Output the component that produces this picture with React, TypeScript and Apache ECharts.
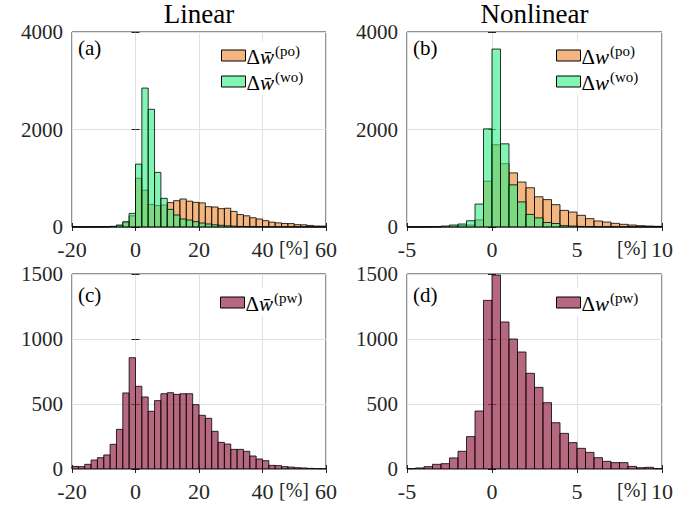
import React, { useEffect, useRef } from "react";
import * as echarts from "echarts";

// ---- data ----
const linStart = -20;
const linWidth = 2;
const nonStart = -5;
const nonWidth = 0.5;

const linPo = [0, 0, 1, 2, 3, 5, 10, 30, 90, 230, 1000, 755, 463, 440, 450, 500, 540, 575, 530, 506, 495, 417, 410, 376, 385, 320, 255, 230, 190, 165, 130, 100, 85, 72, 70, 48, 45, 32, 20, 18];
const linWo = [0, 0, 0, 0, 1, 4, 14, 41, 109, 280, 1290, 2850, 2415, 1120, 588, 362, 246, 164, 144, 109, 82, 62, 45, 35, 25, 18, 12, 8, 6, 4, 3, 2, 2, 1, 1, 1, 0, 0, 0, 0];
const nonPo = [0, 1, 2, 5, 10, 15, 27, 40, 145, 940, 1687, 1298, 1110, 922, 805, 620, 562, 458, 341, 307, 239, 171, 123, 102, 75, 55, 41, 27, 20, 14];
const nonWo = [0, 0, 2, 5, 20, 41, 61, 128, 470, 2013, 3650, 1706, 865, 515, 258, 187, 92, 72, 27, 20, 12, 8, 5, 4, 3, 2, 1, 1, 0, 0];
const linPw = [20, 18, 36, 69, 87, 108, 190, 305, 585, 856, 636, 554, 444, 526, 579, 587, 574, 579, 579, 495, 413, 390, 290, 205, 192, 151, 151, 136, 100, 77, 64, 28, 26, 18, 15, 10, 8, 5, 3, 2];
const nonPw = [3, 8, 18, 36, 41, 85, 136, 249, 446, 1297, 1492, 1131, 1000, 900, 736, 628, 510, 356, 274, 203, 159, 128, 87, 59, 49, 49, 20, 10, 13, 3];

const colTitles = ["Linear", "Nonlinear"];
const panelLabels = ["(a)", "(b)", "(c)", "(d)"];
const unitLabel = "[%]";

const FONT = "'Liberation Serif', 'Times New Roman', serif";
const AXIS_COLOR = "#262626";
const ORANGE = "rgba(237,133,43,0.6)";
const GREEN = "rgba(43,238,130,0.6)";
const MAROON = "rgba(150,40,72,0.7)";

function bins(counts: number[], start: number, width: number) {
  return counts.map((c, i) => [start + i * width, start + (i + 1) * width, c]);
}

export default function App() {
  const ref = useRef<HTMLDivElement>(null);
  useEffect(() => {
    document.body.style.margin = "0";
    if (!ref.current) return;
    const chart = echarts.init(ref.current, undefined, { renderer: "svg" });

    const panels = [
      { grid: { left: 72, top: 32, width: 254, height: 195 }, xmin: -20, xmax: 60, xint: 20, ymax: 4000, yint: 2000 },
      { grid: { left: 407, top: 32, width: 255, height: 195 }, xmin: -5, xmax: 10, xint: 5, ymax: 4000, yint: 2000 },
      { grid: { left: 72, top: 274, width: 254, height: 195 }, xmin: -20, xmax: 60, xint: 20, ymax: 1500, yint: 500 },
      { grid: { left: 407, top: 274, width: 255, height: 195 }, xmin: -5, xmax: 10, xint: 5, ymax: 1500, yint: 500 },
    ];

    const grids: any[] = [];
    const xAxes: any[] = [];
    const yAxes: any[] = [];
    const plain = (v: number) => String(v);
    panels.forEach((p, i) => {
      grids.push({ ...p.grid, show: true, borderColor: AXIS_COLOR, borderWidth: 1, backgroundColor: "#fff", containLabel: false });
      const common = { type: "value", gridIndex: i, min: p.xmin, max: p.xmax, interval: p.xint };
      xAxes.push({
        ...common,
        position: "bottom",
        axisLine: { show: false },
        axisTick: { show: true, inside: true, length: 4, lineStyle: { color: AXIS_COLOR } },
        axisLabel: { fontFamily: FONT, fontSize: 22, lineHeight: 20, color: AXIS_COLOR, margin: 12, formatter: plain },
        splitLine: { show: true, lineStyle: { color: "#e0e0e0", width: 1 } },
      });
      xAxes.push({
        ...common,
        position: "top",
        axisLine: { show: false },
        axisTick: { show: true, inside: true, length: 4, lineStyle: { color: AXIS_COLOR } },
        axisLabel: { show: false },
        splitLine: { show: false },
      });
      const ycommon = { type: "value", gridIndex: i, min: 0, max: p.ymax, interval: p.yint };
      yAxes.push({
        ...ycommon,
        position: "left",
        axisLine: { show: false },
        axisTick: { show: true, inside: true, length: 4, lineStyle: { color: AXIS_COLOR } },
        axisLabel: { fontFamily: FONT, fontSize: 21, lineHeight: 16, color: AXIS_COLOR, margin: 9, formatter: plain },
        splitLine: { show: true, lineStyle: { color: "#e0e0e0", width: 1 } },
      });
      yAxes.push({
        ...ycommon,
        position: "right",
        axisLine: { show: false },
        axisTick: { show: true, inside: true, length: 4, lineStyle: { color: AXIS_COLOR } },
        axisLabel: { show: false },
        splitLine: { show: false },
      });
    });

    const mkSeries = (name: string, panel: number, data: number[][], fill: string) => ({
      type: "custom",
      name,
      xAxisIndex: panel * 2,
      yAxisIndex: panel * 2,
      itemStyle: { color: fill, borderColor: "#000", borderWidth: 1 },
      encode: { x: [0, 1], y: 2 },
      data,
      renderItem: (params: any, api: any) => {
        const x0 = api.value(0);
        const x1 = api.value(1);
        const y = api.value(2);
        const p0 = api.coord([x0, y]);
        const p1 = api.coord([x1, 0]);
        return {
          type: "rect",
          shape: { x: p0[0], y: p0[1], width: p1[0] - p0[0], height: p1[1] - p0[1] },
          style: { fill, stroke: "rgba(0,0,0,0.8)", lineWidth: 1 },
        };
      },
    });

    const series = [
      mkSeries("a_po", 0, bins(linPo, linStart, linWidth), ORANGE),
      mkSeries("a_wo", 0, bins(linWo, linStart, linWidth), GREEN),
      mkSeries("b_po", 1, bins(nonPo, nonStart, nonWidth), ORANGE),
      mkSeries("b_wo", 1, bins(nonWo, nonStart, nonWidth), GREEN),
      mkSeries("c_pw", 2, bins(linPw, linStart, linWidth), MAROON),
      mkSeries("d_pw", 3, bins(nonPw, nonStart, nonWidth), MAROON),
    ];

    const colorOf: Record<string, string> = {
      a_po: ORANGE, a_wo: GREEN, b_po: ORANGE, b_wo: GREEN, c_pw: MAROON, d_pw: MAROON,
    };
    const fmt = (name: string) => {
      const [p, s] = name.split("_");
      const bar = p === "a" || p === "c";
      return `{d|Δ}{w|${bar ? "w\u0304" : "w"}}{s|(${s})}`;
    };
    const rich = {
      d: { fontFamily: FONT, fontSize: 21, color: "#000", verticalAlign: "bottom", lineHeight: 23 },
      w: { fontFamily: FONT, fontSize: 21, fontStyle: "italic", color: "#000", verticalAlign: "bottom", lineHeight: 23 },
      s: { fontFamily: FONT, fontSize: 15, color: "#000", verticalAlign: "bottom", lineHeight: 23, padding: [0, 0, 9, 1] },
    };
    const mkLegend = (names: string[], left: number, top: number) => ({
      data: names.map((n) => ({ name: n, icon: "rect", itemStyle: { color: colorOf[n], borderColor: "#000", borderWidth: 1 } })),
      orient: "vertical",
      left,
      top,
      itemWidth: 24,
      itemHeight: 11,
      itemGap: 2,
      padding: [2, 4, 2, 3],
      backgroundColor: "#fff",
      selectedMode: false,
      formatter: fmt,
      textStyle: { rich, padding: [0, 0, 0, -4] },
    });

    const legends = [
      mkLegend(["a_po", "a_wo"], 218, 41),
      mkLegend(["b_po", "b_wo"], 553, 41),
      mkLegend(["c_pw"], 217, 288),
      mkLegend(["d_pw"], 553, 288),
    ];

    const graphic: any[] = [];
    const titleX = [199, 534.5];
    colTitles.forEach((t, i) => {
      graphic.push({
        type: "text", x: titleX[i], y: 14,
        style: { text: t, fontFamily: FONT, fontSize: 27, fill: "#000", textAlign: "center", textVerticalAlign: "middle" },
      });
    });
    const labelPos = [[78, 48], [413, 48], [78, 295], [413, 295]];
    panelLabels.forEach((t, i) => {
      graphic.push({
        type: "text", x: labelPos[i][0], y: labelPos[i][1],
        style: { text: t, fontFamily: FONT, fontSize: 21, fill: "#000", textAlign: "left", textVerticalAlign: "middle" },
      });
    });
    const unitPos = [[294, 248], [632, 248], [294, 490], [632, 490]];
    unitPos.forEach((p) => {
      graphic.push({
        type: "text", x: p[0], y: p[1],
        style: { text: unitLabel, fontFamily: FONT, fontSize: 20, fill: AXIS_COLOR, textAlign: "center", textVerticalAlign: "middle" },
      });
    });

    chart.setOption({
      animation: false,
      backgroundColor: "#fff",
      grid: grids,
      xAxis: xAxes,
      yAxis: yAxes,
      legend: legends,
      series,
      graphic,
    });
    return () => chart.dispose();
  }, []);
  return <div ref={ref} style={{ width: 699, height: 508 }} />;
}
